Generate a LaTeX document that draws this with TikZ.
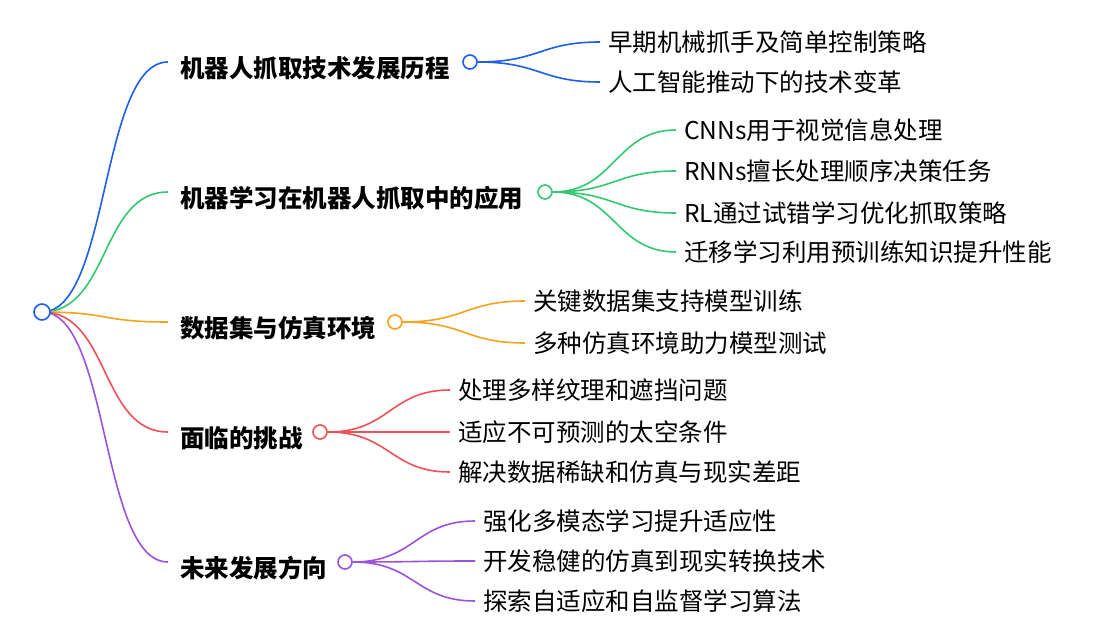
\documentclass[tikz,border=0pt]{standalone}
\usepackage{fontspec}
\setmainfont{Noto Sans CJK SC}
\begin{document}
\begin{tikzpicture}[x=1pt,y=-1pt,
  dot/.style={circle,draw,line width=1.6pt,fill=white,minimum size=14pt,inner sep=0pt},
  br/.style={anchor=west,font=\fontsize{24.5}{26}\selectfont\bfseries,inner sep=0pt},
  lf/.style={anchor=west,font=\fontsize{24.5}{26}\selectfont,inner sep=0pt},
  ln/.style={line width=1.6pt}]
\useasboundingbox (0,0) rectangle (1113,636);
\definecolor{cA}{HTML}{1D5FE6}\definecolor{cB}{HTML}{34C76F}\definecolor{cC}{HTML}{F5A31A}
\definecolor{cD}{HTML}{EE5157}\definecolor{cE}{HTML}{9B52DD}
\coordinate (root) at (42,312);
% branch 1
\coordinate (e1) at (168,62);
\node[br] (b1) at (180,68) {机器人抓取技术发展历程};
\node[dot,draw=cA] (c1) at (470,62) {};
\draw[ln,cA] (root) .. controls (110,312) and (100,62) .. (e1);
\foreach \y/\t [count=\i] in {42/早期机械抓手及简单控制策略,82/人工智能推动下的技术变革}{
  \node[lf] (l1\i) at (608,\y) {\t};
  \draw[ln,cA] (c1.east) .. controls (540,62) and (540,\y) .. ([xshift=-8pt]l1\i.west);}
% branch 2
\coordinate (e2) at (168,192);
\node[br] (b2) at (180,198) {机器学习在机器人抓取中的应用};
\node[dot,draw=cB] (c2) at (545,192) {};
\draw[ln,cB] (root) .. controls (110,312) and (100,192) .. (e2);
\foreach \y/\t [count=\i] in {130/CNNs用于视觉信息处理,171/RNNs擅长处理顺序决策任务,213/RL通过试错学习优化抓取策略,252/迁移学习利用预训练知识提升性能}{
  \node[lf] (l2\i) at (684,\y) {\t};
  \draw[ln,cB] (c2.east) .. controls (615,192) and (615,\y) .. ([xshift=-8pt]l2\i.west);}
% branch 3
\coordinate (e3) at (168,322);
\node[br] (b3) at (180,328) {数据集与仿真环境};
\node[dot,draw=cC] (c3) at (395,322) {};
\draw[ln,cC] (root) .. controls (110,312) and (100,322) .. (e3);
\foreach \y/\t [count=\i] in {301/关键数据集支持模型训练,343/多种仿真环境助力模型测试}{
  \node[lf] (l3\i) at (533,\y) {\t};
  \draw[ln,cC] (c3.east) .. controls (465,322) and (465,\y) .. ([xshift=-8pt]l3\i.west);}
% branch 4
\coordinate (e4) at (168,432);
\node[br] (b4) at (180,438) {面临的挑战};
\node[dot,draw=cD] (c4) at (320,432) {};
\draw[ln,cD] (root) .. controls (110,312) and (100,432) .. (e4);
\foreach \y/\t [count=\i] in {390/处理多样纹理和遮挡问题,432/适应不可预测的太空条件,472/解决数据稀缺和仿真与现实差距}{
  \node[lf] (l4\i) at (458,\y) {\t};
  \draw[ln,cD] (c4.east) .. controls (390,432) and (390,\y) .. ([xshift=-8pt]l4\i.west);}
% branch 5
\coordinate (e5) at (168,562);
\node[br] (b5) at (180,568) {未来发展方向};
\node[dot,draw=cE] (c5) at (345,562) {};
\draw[ln,cE] (root) .. controls (110,312) and (100,562) .. (e5);
\foreach \y/\t [count=\i] in {521/强化多模态学习提升适应性,561/开发稳健的仿真到现实转换技术,601/探索自适应和自监督学习算法}{
  \node[lf] (l5\i) at (483,\y) {\t};
  \draw[ln,cE] (c5.east) .. controls (415,562) and (415,\y) .. ([xshift=-8pt]l5\i.west);}
\node[dot,draw=cA,minimum size=16pt] (r) at (root) {};
\end{tikzpicture}
\end{document}
